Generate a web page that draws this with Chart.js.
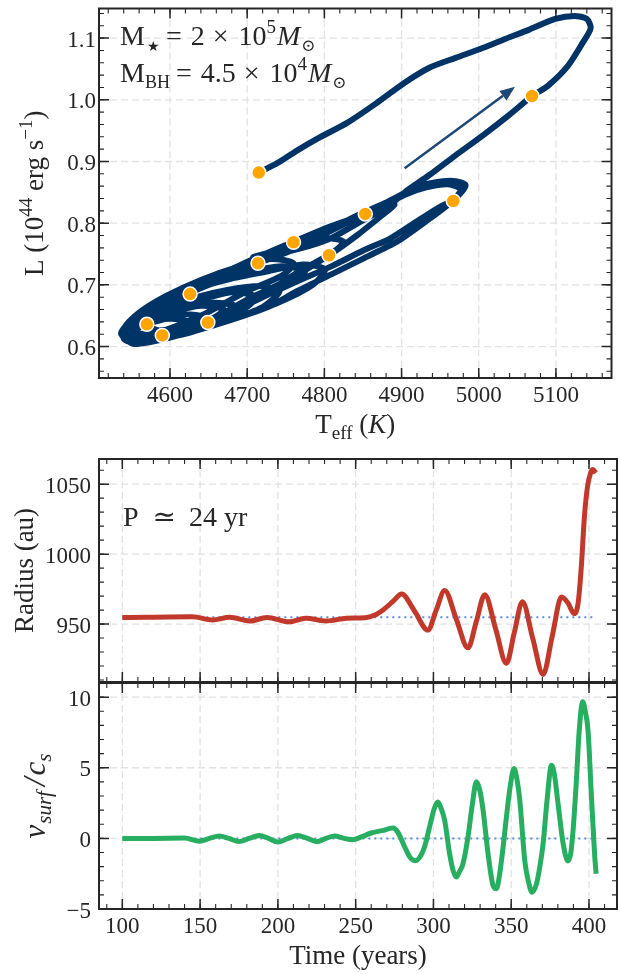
<!DOCTYPE html>
<html>
<head>
<meta charset="utf-8">
<script src="https://cdn.jsdelivr.net/npm/chart.js@4.4.1/dist/chart.umd.min.js"></script>
<style>
  html, body { margin: 0; padding: 0; background: #fff; }
  #wrap { position: relative; width: 620px; height: 974px; }
  canvas { position: absolute; left: 0; }
</style>
</head>
<body>
<div id="wrap">
  <canvas id="hr" width="620" height="440" style="top:0px"></canvas>
  <canvas id="rad" width="620" height="244" style="top:440px"></canvas>
  <canvas id="vel" width="620" height="304" style="top:670px"></canvas>
</div>
<script>
// HR track, in time order (Teff in K, L in 1e44 erg/s), one pulsation loop per row
const trackTeff = [
  4573,
  4586, 4618, 4644, 4618, 4586, 4554, 4540,
  4580, 4610, 4625, 4600, 4565, 4540,
  4565, 4610, 4650, 4670, 4640, 4600, 4560, 4540,
  4560, 4605, 4656, 4688, 4656, 4618, 4580, 4550, 4537,
  4570, 4630, 4690, 4712, 4680, 4630, 4585, 4545,
  4560, 4611, 4669, 4720, 4742, 4717, 4676, 4631, 4586, 4551, 4538,
  4580, 4650, 4720, 4760, 4775, 4745, 4700, 4650, 4600, 4560, 4540,
  4567, 4624, 4682, 4740, 4785, 4801, 4772, 4727, 4676, 4624, 4580, 4547, 4537,
  4575, 4640, 4700, 4745, 4760, 4730, 4690, 4640, 4595, 4560, 4541,
  4575, 4640, 4700, 4765, 4810, 4825, 4795, 4760, 4720, 4670, 4620, 4580, 4545,
  4567, 4637, 4701, 4753, 4806, 4842, 4874, 4891, 4876, 4853, 4804, 4760, 4714, 4659, 4611, 4573, 4545, 4537,
  4554, 4611, 4669, 4727, 4765, 4809, 4851, 4894, 4936, 4964, 4977, 4960, 4932, 4906, 4881, 4842, 4804, 4765, 4727, 4688, 4650, 4611, 4580, 4550, 4540,
  4547, 4599, 4650, 4701, 4765, 4809, 4851, 4885, 4915, 4945, 4967, 4977, 4983, 4970, 4954, 4928, 4906, 4881, 4842, 4804, 4765, 4733, 4708,
  4753, 4804, 4842, 4885, 4906, 4936, 4970, 5005, 5038, 5069, 5090, 5115, 5134, 5145, 5140, 5124, 5099, 5064, 5035, 5005, 4970, 4936, 4903, 4868, 4830, 4791, 4765, 4740, 4715
];
const trackLum = [
  0.632,
  0.626, 0.632, 0.648, 0.652, 0.642, 0.631, 0.621,
  0.622, 0.630, 0.640, 0.645, 0.638, 0.626,
  0.615, 0.622, 0.642, 0.660, 0.666, 0.655, 0.638, 0.623,
  0.613, 0.618, 0.637, 0.664, 0.671, 0.661, 0.648, 0.631, 0.620,
  0.612, 0.628, 0.656, 0.680, 0.688, 0.672, 0.652, 0.628,
  0.610, 0.618, 0.640, 0.664, 0.690, 0.698, 0.692, 0.679, 0.660, 0.636, 0.620,
  0.615, 0.640, 0.680, 0.705, 0.722, 0.730, 0.720, 0.700, 0.672, 0.645, 0.624,
  0.608, 0.623, 0.645, 0.671, 0.700, 0.725, 0.733, 0.722, 0.709, 0.690, 0.664, 0.639, 0.621,
  0.620, 0.650, 0.690, 0.715, 0.735, 0.742, 0.730, 0.708, 0.682, 0.655, 0.628,
  0.612, 0.635, 0.668, 0.720, 0.752, 0.770, 0.776, 0.757, 0.738, 0.718, 0.695, 0.665, 0.632,
  0.607, 0.632, 0.677, 0.708, 0.748, 0.780, 0.812, 0.830, 0.830, 0.815, 0.793, 0.770, 0.745, 0.714, 0.689, 0.653, 0.629, 0.620,
  0.604, 0.618, 0.639, 0.664, 0.690, 0.717, 0.743, 0.770, 0.807, 0.834, 0.855, 0.863, 0.858, 0.847, 0.831, 0.809, 0.785, 0.764, 0.746, 0.727, 0.703, 0.674, 0.645, 0.623, 0.613,
  0.608, 0.615, 0.636, 0.669, 0.706, 0.730, 0.756, 0.775, 0.799, 0.823, 0.838, 0.849, 0.862, 0.868, 0.868, 0.862, 0.850, 0.834, 0.812, 0.788, 0.767, 0.754, 0.745,
  0.754, 0.773, 0.799, 0.830, 0.852, 0.878, 0.910, 0.942, 0.974, 1.006, 1.023, 1.054, 1.091, 1.116, 1.131, 1.136, 1.131, 1.113, 1.099, 1.084, 1.068, 1.052, 1.027, 0.995, 0.963, 0.937, 0.918, 0.898, 0.882
];
// marked epochs
const dotTeff = [4715, 5069, 4967, 4853, 4806, 4760, 4714, 4626, 4649, 4570, 4590];
const dotLum = [0.882, 1.006, 0.836, 0.815, 0.748, 0.769, 0.735, 0.685, 0.639, 0.636, 0.618];
const arrowFrom = [4904, 0.889];
const arrowTo = [5047, 1.021];

// radius vs time
const radiusTime = [100, 115, 130, 145, 158, 169, 182, 193, 207, 218, 231, 244, 256, 262, 268, 274, 279.5, 288, 296.4, 301.8,
  307.2, 314.7, 322.2, 327.6, 333, 340, 346.9, 352, 357.2, 363.8, 370.5, 376.4, 382.3, 386.5, 390.5, 393, 395, 397, 399, 401, 402.5, 404.4];
const radiusAu = [954.7, 954.9, 955.1, 955.2, 953.0, 954.8, 952.2, 954.7, 951.6, 954.2, 952.2, 954.2, 954.6, 956.3, 960.5, 966.2, 971.5, 959, 945.7, 960,
  974, 953.5, 933, 952, 971, 946.5, 922, 944, 966, 940, 914, 941.6, 969.3, 965, 957.5, 965, 990, 1026, 1048, 1058, 1060.5, 1058];
const radiusRef = 954.8;
const radiusRefSpan = [100, 404.5];

// surface velocity over sound speed vs time
const velTime = [100, 120, 140, 149.5, 156, 162.4, 168.5, 175, 181.5, 188, 194, 200, 206.5, 212.6, 219, 225, 231, 236.4, 242, 248,
  254, 260, 267, 274, 277, 281.5, 285, 288.6, 292, 294.3, 297.5, 300.5, 302.9, 305, 307.2, 310.4, 312.7, 314.7, 316.5, 319,
  322.2, 325, 327.6, 329.8, 331.9, 335.1, 338.3, 340.5, 342.6, 344.8, 346.9, 349.5, 351.8, 353.5, 355.5, 358.7, 360.9, 363.4, 366.3, 368.4,
  370.5, 373.2, 375.9, 377.8, 380.1, 383.4, 386.5, 388.2, 389.8, 391.9, 393.7, 396, 397.6, 399.4, 401.6, 403.7, 404.6];
const velRatio = [0, 0, 0.02, -0.2, 0, 0.17, 0, -0.23, 0, 0.2, 0, -0.26, 0, 0.2, 0, -0.24, 0, 0.17, 0.02, -0.1,
  0.12, 0.38, 0.55, 0.73, 0.45, -0.6, -1.35, -1.58, -1.2, -0.6, 0.8, 2.1, 2.57, 2.1, 1.28, -1.09, -2.3, -2.74, -2.4, -1.8,
  0.1, 2.4, 4.0, 3.4, 2.0, -1.09, -3.33, -3.57, -2.5, -0.6, 1.5, 3.8, 4.94, 4.3, 2.7, -1.56, -2.98, -3.81, -3.2, -2.0,
  -0.38, 2.9, 5.18, 4.5, 2.46, -0.38, -1.6, -1.1, 0.6, 4.1, 7.6, 9.67, 9.0, 7.6, 2.9, -1.3, -2.5];
const velRef = 0;
const velRefSpan = [100, 403];

// ticks
const teffTicks = [4600, 4700, 4800, 4900, 5000, 5100];
const lumTicks = [0.6, 0.7, 0.8, 0.9, 1.0, 1.1];
const timeTicks = [100, 150, 200, 250, 300, 350, 400];
const radiusTicks = [950, 1000, 1050];
const velTicks = [-5, 0, 5, 10];

const serif = '"Liberation Serif", "DejaVu Serif", serif';
const ink = '#262626';

function pts(xs, ys) { return xs.map((v, i) => ({ x: v, y: ys[i] })); }

function steps(min, max, step) {
  const out = [];
  for (let i = Math.ceil(min / step - 1e-9); i * step <= max + 1e-9; i++) out.push(i * step);
  return out;
}

// draw a run of text pieces: [text, size, dy, italic]; ['', w] is a gap
function rich(ctx, parts, x, y, centered, rotated) {
  const font = p => (p[3] ? 'italic ' : '') + p[1] + 'px ' + serif;
  const adv = p => { if (p[0] === '') return p[1]; ctx.font = font(p); return ctx.measureText(p[0]).width; };
  const total = parts.reduce((s, p) => s + adv(p), 0);
  ctx.save();
  ctx.translate(x, y);
  if (rotated) ctx.rotate(-Math.PI / 2);
  ctx.fillStyle = ink;
  ctx.textAlign = 'left';
  ctx.textBaseline = 'alphabetic';
  let cx = centered ? -total / 2 : 0;
  parts.forEach(p => {
    const w = adv(p);
    if (p[0] !== '') { ctx.font = font(p); ctx.fillText(p[0], cx, p[2] || 0); }
    cx += w;
  });
  ctx.restore();
}

function fmtTick(v, dec) {
  const s = Math.abs(v).toFixed(dec);
  return v < 0 ? '\u2212' + s : s;
}

// matplotlib-like frame: dashed grid, inward ticks on all sides, labels
function mplAxes(cfg) {
  return {
    id: 'mplAxes',
    beforeDatasetsDraw(chart) {
      const { ctx, chartArea: a, scales: { x, y } } = chart;
      ctx.save();
      ctx.strokeStyle = '#e2e2e2';
      ctx.lineWidth = 1.3;
      ctx.setLineDash([7, 4]);
      ctx.beginPath();
      cfg.xMajor.forEach(v => { const p = x.getPixelForValue(v); ctx.moveTo(p, a.top); ctx.lineTo(p, a.bottom); });
      cfg.yMajor.forEach(v => { const p = y.getPixelForValue(v); ctx.moveTo(a.left, p); ctx.lineTo(a.right, p); });
      ctx.stroke();
      ctx.restore();
    },
    afterDraw(chart) {
      const { ctx, chartArea: a, scales: { x, y } } = chart;
      ctx.save();
      ctx.strokeStyle = ink;
      const marks = (vals, len, w) => {
        ctx.lineWidth = w;
        ctx.beginPath();
        vals.x.forEach(v => {
          const p = x.getPixelForValue(v);
          ctx.moveTo(p, a.bottom); ctx.lineTo(p, a.bottom - len);
          ctx.moveTo(p, a.top); ctx.lineTo(p, a.top + len);
        });
        vals.y.forEach(v => {
          const p = y.getPixelForValue(v);
          ctx.moveTo(a.left, p); ctx.lineTo(a.left + len, p);
          ctx.moveTo(a.right, p); ctx.lineTo(a.right - len, p);
        });
        ctx.stroke();
      };
      marks({ x: steps(x.min, x.max, cfg.xMinor), y: steps(y.min, y.max, cfg.yMinor) }, 5, 1.1);
      marks({ x: cfg.xMajor, y: cfg.yMajor }, 10, 1.5);
      ctx.lineWidth = 2;
      ctx.strokeRect(a.left, a.top, a.right - a.left, a.bottom - a.top);

      ctx.fillStyle = ink;
      ctx.font = '23px ' + serif;
      if (cfg.xLabels) {
        ctx.textAlign = 'center';
        cfg.xMajor.forEach(v => ctx.fillText(fmtTick(v, 0), x.getPixelForValue(v), a.bottom + 24));
      }
      ctx.textAlign = 'right';
      cfg.yMajor.forEach(v => ctx.fillText(fmtTick(v, cfg.yDec), a.left - cfg.yPad, y.getPixelForValue(v) + 8.5));
      ctx.restore();
      if (cfg.extra) cfg.extra(chart);
    }
  };
}

function axis(min, max, size, isX) {
  return {
    type: 'linear', min, max,
    ticks: { display: false },
    grid: { display: false },
    border: { display: false },
    afterFit: s => { if (isX) s.height = size; else s.width = size; }
  };
}

const common = {
  responsive: false,
  animation: false,
  events: [],
  plugins: { legend: { display: false }, tooltip: { enabled: false } }
};

// HR diagram
new Chart(document.getElementById('hr'), {
  type: 'scatter',
  data: {
    datasets: [{
      data: pts(dotTeff, dotLum),
      pointRadius: 7,
      pointBackgroundColor: '#ffa500',
      pointBorderColor: '#ffffff',
      pointBorderWidth: 1.5
    }, {
      data: pts(trackTeff, trackLum),
      showLine: true,
      borderColor: '#003366',
      borderWidth: 6,
      pointRadius: 0,
      tension: 0.25,
      borderJoinStyle: 'round',
      borderCapStyle: 'round'
    }]
  },
  options: {
    ...common,
    layout: { padding: { top: 4, right: 3, bottom: 0, left: 0 } },
    scales: { x: axis(4508, 5172, 62, true), y: axis(0.549, 1.148, 99, false) }
  },
  plugins: [mplAxes({
    xMajor: teffTicks, xMinor: 20, yMajor: lumTicks, yMinor: 0.02, yDec: 1, yPad: 3, xLabels: true,
    extra(chart) {
      const { ctx, chartArea: a, scales: { x, y } } = chart;
      // arrow showing direction of the last excursion
      const x0 = x.getPixelForValue(arrowFrom[0]), y0 = y.getPixelForValue(arrowFrom[1]);
      const x1 = x.getPixelForValue(arrowTo[0]), y1 = y.getPixelForValue(arrowTo[1]);
      const ang = Math.atan2(y1 - y0, x1 - x0), hl = 15, hw = 6;
      const bx = x1 - hl * Math.cos(ang), by = y1 - hl * Math.sin(ang);
      ctx.save();
      ctx.strokeStyle = ctx.fillStyle = '#1d4877';
      ctx.lineWidth = 2.5;
      ctx.beginPath(); ctx.moveTo(x0, y0); ctx.lineTo(bx, by); ctx.stroke();
      ctx.beginPath();
      ctx.moveTo(x1, y1);
      ctx.lineTo(bx + hw * Math.sin(ang), by - hw * Math.cos(ang));
      ctx.lineTo(bx - hw * Math.sin(ang), by + hw * Math.cos(ang));
      ctx.closePath(); ctx.fill();
      ctx.restore();

      rich(ctx, [['M', 28], ['', 2], ['\u2605', 14, 6], ['', 6], ['=', 28], ['', 9], ['2', 28], ['', 8], ['\u00d7', 28], ['', 10], ['10', 28], ['5', 19, -12], ['', 1], ['M', 28, 0, true], ['', 1], ['\u2299', 17, 6]], a.left + 21, 45, false, false);
      rich(ctx, [['M', 28], ['BH', 18, 6], ['', 6], ['=', 28], ['', 9], ['4.5', 28], ['', 8], ['\u00d7', 28], ['', 10], ['10', 28], ['4', 19, -12], ['', 1], ['M', 28, 0, true], ['', 1], ['\u2299', 17, 6]], a.left + 21, 82, false, false);

      rich(ctx, [['L (10', 27], ['44', 19, -11], [' erg s', 27], ['\u22121', 19, -11], [')', 27]], 43, (a.top + a.bottom) / 2, true, true);
      rich(ctx, [['T', 27], ['eff', 19, 6], [' (', 27], ['K', 27, 0, true], [')', 27]], (a.left + a.right) / 2, 433, true, false);
    }
  })]
});

// radius
new Chart(document.getElementById('rad'), {
  type: 'scatter',
  data: {
    datasets: [{
      data: pts(radiusTime, radiusAu),
      showLine: true,
      borderColor: '#c0392b',
      borderWidth: 5,
      pointRadius: 0,
      cubicInterpolationMode: 'monotone'
    }, {
      data: pts(radiusRefSpan, [radiusRef, radiusRef]),
      showLine: true,
      borderColor: '#5a8ae0',
      borderWidth: 2,
      borderDash: [2, 4],
      pointRadius: 0
    }]
  },
  options: {
    ...common,
    layout: { padding: { top: 19, right: 3, bottom: 2, left: 0 } },
    scales: { x: axis(85, 418, 0, true), y: axis(908.6, 1068, 99, false) }
  },
  plugins: [mplAxes({
    xMajor: timeTicks, xMinor: 10, yMajor: radiusTicks, yMinor: 10, yDec: 0, yPad: 8, xLabels: false,
    extra(chart) {
      const { ctx, chartArea: a } = chart;
      rich(ctx, [['P', 28], ['', 14], ['\u2243', 28], ['', 13], ['24 yr', 28]], a.left + 24, 86, false, false);
      rich(ctx, [['Radius (au)', 27]], 33, (a.top + a.bottom) / 2, true, true);
    }
  })]
});

// surface velocity
new Chart(document.getElementById('vel'), {
  type: 'scatter',
  data: {
    datasets: [{
      data: pts(velTime, velRatio),
      showLine: true,
      borderColor: '#27ae60',
      borderWidth: 5,
      pointRadius: 0,
      cubicInterpolationMode: 'monotone'
    }, {
      data: pts(velRefSpan, [velRef, velRef]),
      showLine: true,
      borderColor: '#5a8ae0',
      borderWidth: 2,
      borderDash: [2, 4],
      pointRadius: 0
    }]
  },
  options: {
    ...common,
    layout: { padding: { top: 13, right: 3, bottom: 0, left: 0 } },
    scales: { x: axis(85, 418, 65, true), y: axis(-5, 11, 99, false) }
  },
  plugins: [mplAxes({
    xMajor: timeTicks, xMinor: 10, yMajor: velTicks, yMinor: 1, yDec: 0, yPad: 8, xLabels: true,
    extra(chart) {
      const { ctx, chartArea: a } = chart;
      rich(ctx, [['v', 31, 0, true], ['', 1], ['surf', 21, 6, true], ['', 5], ['/', 31, 0, true], ['', 2], ['c', 31, 0, true], ['s', 21, 6, true]], 45, (a.top + a.bottom) / 2, true, true);
      rich(ctx, [['Time (years)', 27]], (a.left + a.right) / 2, 294, true, false);
    }
  })]
});
</script>
</body>
</html>
